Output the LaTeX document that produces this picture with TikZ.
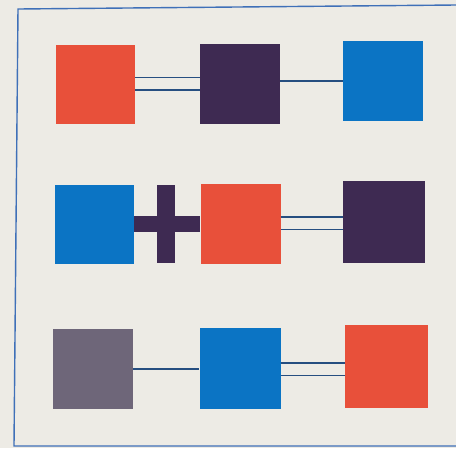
\documentclass[tikz,border=0pt]{standalone}
\definecolor{bgc}{HTML}{EDEBE5}
\definecolor{redc}{HTML}{E8503A}
\definecolor{purc}{HTML}{3E2A52}
\definecolor{bluc}{HTML}{0B74C4}
\definecolor{greyc}{HTML}{6E6679}
\definecolor{linec}{HTML}{264E80}
\definecolor{framec}{HTML}{3F70B8}
\begin{document}
\begin{tikzpicture}[x=1pt,y=-1pt,
  sq/.style={draw=none,inner sep=0pt,minimum width=#1,minimum height=#1},
  link/.style={linec,line width=1.5pt},
  dlink/.style={linec,line width=1.5pt,double=bgc,double distance=11pt},
  frameline/.style={framec,line width=1.4pt}]
\fill[bgc] (0,0) rectangle (456,448);
\useasboundingbox (0,0) rectangle (456,448);
% frame
\coordinate (ftl) at (18,9);
\coordinate (ftr) at (456,5);
\coordinate (fbl) at (14,446);
\coordinate (fbr) at (456,446);
\draw[frameline] (ftr) -- (ftl) -- (fbl) -- (fbr);
% row 1
\node[sq=79pt,fill=redc] (r1a) at (95.5,84.5) {};
\node[sq=80pt,fill=purc] (r1b) at (240,83.5) {};
\node[sq=80pt,fill=bluc] (r1c) at (383,80.5) {};
% row 2
\node[sq=79pt,fill=bluc] (r2a) at (94.5,224) {};
\node[sq=80pt,fill=redc] (r2b) at (240.5,223.5) {};
\node[sq=82pt,fill=purc] (r2c) at (384,221.5) {};
\node[fill=purc,inner sep=0pt,minimum width=18pt,minimum height=78pt] (bar) at (166,224) {};
% row 3
\node[sq=80pt,fill=greyc] (r3a) at (93,368.5) {};
\node[sq=81pt,fill=bluc] (r3b) at (240,368) {};
\node[sq=83pt,fill=redc] (r3c) at (386.5,366) {};
% connectors
\draw[dlink] (r1a.east|-0,83.5) -- (r1b.west|-0,83.5);
\draw[link] (r1b.east|-0,81) -- (r1c.west|-0,81);
\draw[purc,line width=16pt] (r2a.east|-0,224) -- (r2b.west|-0,224);
\draw[dlink] (r2b.east|-0,223) -- (r2c.west|-0,223);
\draw[link] (r3a.east|-0,369) -- (r3b.west|-0,369);
\draw[dlink] (r3b.east|-0,369) -- (r3c.west|-0,369);
\end{tikzpicture}
\end{document}
